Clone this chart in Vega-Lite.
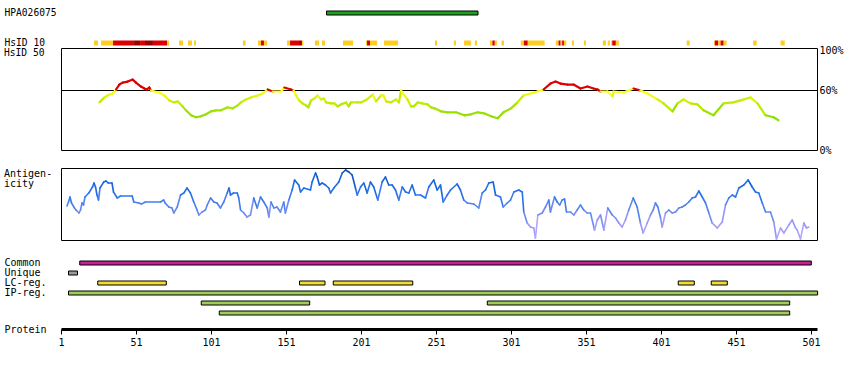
{
  "$schema": "https://vega.github.io/schema/vega-lite/v6.json",
  "background": "white",
  "padding": {"left": 3, "top": 7, "right": 3, "bottom": 5},
  "spacing": 0,
  "bounds": "flush",
  "config": {
    "view": {"stroke": null},
    "font": "DejaVu Sans Mono",
    "text": {"font": "DejaVu Sans Mono", "fontSize": 10, "fill": "black"},
    "axis": {"labelFont": "DejaVu Sans Mono", "titleFont": "DejaVu Sans Mono", "labelFontSize": 10, "labelColor": "black", "grid": false}
  },
  "datasets": {
    "p1": [
      {"r":26.6,"v":48},{"r":29.9,"v":53},{"r":33.2,"v":56},{"r":35.4,"v":57},{"r":37.7,"v":61},{"r":39.9,"v":66},{"r":42.1,"v":68},{"r":45.5,"v":69},{"r":48.8,"v":71},{"r":51,"v":68},{"r":54.3,"v":64},{"r":56.6,"v":62},{"r":58.1,"v":61},{"r":59.9,"v":63},{"r":61,"v":60},{"r":63.2,"v":59},{"r":66.5,"v":58},{"r":69.9,"v":55},{"r":73.2,"v":50},{"r":76.5,"v":48},{"r":78.8,"v":49},{"r":82.1,"v":44},{"r":84.3,"v":40},{"r":87.7,"v":35},{"r":91,"v":33},{"r":94.3,"v":34},{"r":97.7,"v":36},{"r":101,"v":39},{"r":104.3,"v":40},{"r":107.7,"v":40},{"r":112.1,"v":43},{"r":115.5,"v":42},{"r":118.8,"v":45},{"r":121,"v":48},{"r":124.3,"v":51},{"r":127.7,"v":53},{"r":132.1,"v":55},{"r":135.5,"v":57},{"r":138.8,"v":61},{"r":142.1,"v":59},{"r":147.7,"v":59},{"r":149.9,"v":63},{"r":154.3,"v":61},{"r":156.1,"v":60},{"r":157.7,"v":55},{"r":159.7,"v":50},{"r":162,"v":47},{"r":164.3,"v":45},{"r":165.9,"v":43},{"r":167.7,"v":50},{"r":169.9,"v":52},{"r":172,"v":55},{"r":174.3,"v":51},{"r":176.1,"v":52},{"r":177.7,"v":48},{"r":181,"v":47},{"r":183.2,"v":47},{"r":185.5,"v":44},{"r":187.7,"v":46},{"r":191,"v":48},{"r":192.8,"v":44},{"r":194.3,"v":48},{"r":198.8,"v":48},{"r":201,"v":48},{"r":205,"v":51},{"r":208.8,"v":56},{"r":211,"v":49},{"r":214.3,"v":55},{"r":216,"v":55},{"r":217.7,"v":49},{"r":221,"v":48},{"r":224.3,"v":51},{"r":226.3,"v":48},{"r":227.7,"v":60},{"r":229.5,"v":56},{"r":232,"v":51},{"r":234.3,"v":44},{"r":236.3,"v":44},{"r":238.8,"v":48},{"r":241.7,"v":47},{"r":245.4,"v":46},{"r":247.7,"v":43},{"r":249.9,"v":42},{"r":254.3,"v":39},{"r":258.8,"v":38},{"r":264.3,"v":38},{"r":269.9,"v":35},{"r":274.3,"v":36},{"r":278.8,"v":38},{"r":283,"v":37},{"r":287.7,"v":34},{"r":292.1,"v":32},{"r":296,"v":38},{"r":301,"v":42},{"r":305.3,"v":48},{"r":309.3,"v":55},{"r":314,"v":57},{"r":318.7,"v":59},{"r":322.7,"v":61},{"r":327.3,"v":67},{"r":330.7,"v":69},{"r":334,"v":67},{"r":338.7,"v":66},{"r":342.7,"v":66},{"r":347.3,"v":62},{"r":352,"v":64},{"r":356,"v":62},{"r":358.7,"v":61},{"r":360.7,"v":59},{"r":365.3,"v":59},{"r":368.7,"v":54},{"r":369.3,"v":59},{"r":376,"v":58},{"r":382.7,"v":62},{"r":387.3,"v":60},{"r":392,"v":57},{"r":398.7,"v":51},{"r":402.7,"v":47},{"r":408.7,"v":39},{"r":412,"v":47},{"r":416,"v":51},{"r":420.7,"v":47},{"r":425.3,"v":46},{"r":429.3,"v":40},{"r":436,"v":35},{"r":442.7,"v":47},{"r":449.3,"v":48},{"r":454,"v":50},{"r":460.7,"v":53},{"r":465.3,"v":47},{"r":470.7,"v":35},{"r":476,"v":33},{"r":479.3,"v":30}
    ],
    "ag": [
      {"r":5,"a":34},{"r":6,"a":38},{"r":7,"a":43},{"r":8,"a":37},{"r":10,"a":32},{"r":11,"a":30},{"r":13,"a":27},{"r":14,"a":30},{"r":15,"a":37},{"r":16,"a":35},{"r":17,"a":43},{"r":19.5,"a":47},{"r":22,"a":53},{"r":23,"a":57},{"r":24,"a":53},{"r":25,"a":45},{"r":26,"a":40},{"r":27,"a":52},{"r":29.5,"a":58},{"r":31,"a":59},{"r":32.5,"a":57},{"r":35,"a":57},{"r":36,"a":48},{"r":38.5,"a":42},{"r":40.7,"a":44},{"r":48.5,"a":44},{"r":49.5,"a":38},{"r":52.9,"a":37},{"r":54.6,"a":36},{"r":57.3,"a":38},{"r":67.3,"a":38},{"r":69.5,"a":40},{"r":70.4,"a":37},{"r":72.9,"a":33},{"r":75,"a":32},{"r":76.2,"a":27},{"r":78.5,"a":33},{"r":80.7,"a":45},{"r":82.9,"a":47},{"r":85,"a":52},{"r":87.3,"a":47},{"r":89.5,"a":38},{"r":91.7,"a":30},{"r":92.9,"a":25},{"r":95,"a":28},{"r":97.3,"a":30},{"r":98.5,"a":35},{"r":100.7,"a":42},{"r":102.9,"a":38},{"r":105,"a":37},{"r":107.3,"a":32},{"r":109.5,"a":38},{"r":111.8,"a":47},{"r":113,"a":52},{"r":114,"a":45},{"r":116,"a":47},{"r":118.5,"a":47},{"r":119.5,"a":42},{"r":120.7,"a":30},{"r":122.9,"a":27},{"r":125,"a":23},{"r":127.3,"a":25},{"r":129.5,"a":42},{"r":131.8,"a":32},{"r":134,"a":43},{"r":136.2,"a":38},{"r":138.5,"a":32},{"r":139.6,"a":23},{"r":141,"a":38},{"r":142.9,"a":32},{"r":145,"a":33},{"r":147.3,"a":28},{"r":149.5,"a":38},{"r":150.6,"a":27},{"r":152.9,"a":40},{"r":155.1,"a":50},{"r":156.7,"a":60},{"r":159.5,"a":55},{"r":160.7,"a":48},{"r":162.9,"a":52},{"r":167.3,"a":50},{"r":168.4,"a":58},{"r":170.7,"a":67},{"r":171.8,"a":63},{"r":173.3,"a":55},{"r":175.1,"a":57},{"r":177.3,"a":55},{"r":179.5,"a":52},{"r":180.7,"a":47},{"r":182.9,"a":52},{"r":186.2,"a":58},{"r":188.5,"a":67},{"r":190.7,"a":70},{"r":192.9,"a":68},{"r":195.1,"a":65},{"r":197.3,"a":52},{"r":198.5,"a":45},{"r":200.7,"a":53},{"r":202.9,"a":57},{"r":205.1,"a":47},{"r":207.3,"a":58},{"r":209.5,"a":53},{"r":212.2,"a":40},{"r":215.1,"a":58},{"r":217.3,"a":63},{"r":219.5,"a":55},{"r":221.8,"a":55},{"r":224,"a":50},{"r":226.2,"a":40},{"r":228.5,"a":53},{"r":230.7,"a":48},{"r":232.9,"a":47},{"r":235.1,"a":55},{"r":237.3,"a":45},{"r":240.7,"a":45},{"r":244,"a":42},{"r":246.2,"a":53},{"r":249.5,"a":60},{"r":251.8,"a":50},{"r":254,"a":55},{"r":255.8,"a":38},{"r":258.5,"a":45},{"r":260.7,"a":50},{"r":265.1,"a":56},{"r":267.3,"a":50},{"r":269.5,"a":40},{"r":271.8,"a":37},{"r":276.2,"a":36},{"r":279.5,"a":32},{"r":281.8,"a":47},{"r":284,"a":50},{"r":286.2,"a":57},{"r":289.1,"a":58},{"r":290.7,"a":45},{"r":294,"a":43},{"r":295.8,"a":33},{"r":298.5,"a":37},{"r":300.7,"a":40},{"r":302.9,"a":48},{"r":306.2,"a":50},{"r":308.5,"a":48},{"r":309.5,"a":28},{"r":311.8,"a":17},{"r":314,"a":13},{"r":316.2,"a":12},{"r":317.3,"a":2},{"r":318.9,"a":25},{"r":321.8,"a":27},{"r":324,"a":33},{"r":326.2,"a":40},{"r":327.3,"a":28},{"r":330,"a":43},{"r":331.8,"a":38},{"r":333.5,"a":35},{"r":335.1,"a":40},{"r":336.7,"a":41},{"r":338,"a":28},{"r":340.7,"a":28},{"r":342.9,"a":25},{"r":345.1,"a":30},{"r":347.3,"a":35},{"r":349.5,"a":30},{"r":351.8,"a":27},{"r":354,"a":27},{"r":356.7,"a":10},{"r":358.5,"a":20},{"r":360.7,"a":25},{"r":362.9,"a":10},{"r":365.5,"a":32},{"r":368.5,"a":25},{"r":370.7,"a":22},{"r":372.9,"a":17},{"r":375.1,"a":13},{"r":377.3,"a":20},{"r":379.5,"a":30},{"r":382.5,"a":42},{"r":385.1,"a":33},{"r":387.3,"a":17},{"r":389.1,"a":7},{"r":391.8,"a":17},{"r":394,"a":25},{"r":395.8,"a":30},{"r":397.3,"a":37},{"r":398.9,"a":33},{"r":400.7,"a":22},{"r":401.8,"a":13},{"r":404,"a":27},{"r":406.2,"a":30},{"r":408.5,"a":27},{"r":410.7,"a":28},{"r":412.9,"a":32},{"r":415.1,"a":33},{"r":417.3,"a":35},{"r":419.5,"a":38},{"r":421.8,"a":42},{"r":424,"a":43},{"r":426.2,"a":49},{"r":428.5,"a":43},{"r":430.7,"a":37},{"r":432.9,"a":27},{"r":435.1,"a":17},{"r":438.5,"a":12},{"r":441.8,"a":18},{"r":444,"a":35},{"r":446.2,"a":42},{"r":448.5,"a":45},{"r":450.7,"a":43},{"r":452.9,"a":52},{"r":456.2,"a":55},{"r":459.1,"a":60},{"r":461.8,"a":53},{"r":464,"a":48},{"r":466.2,"a":47},{"r":468.5,"a":37},{"r":470.7,"a":28},{"r":474,"a":28},{"r":476.2,"a":18},{"r":478,"a":1},{"r":480.7,"a":12},{"r":482.9,"a":7},{"r":486.2,"a":15},{"r":488.5,"a":20},{"r":490.7,"a":12},{"r":491.8,"a":10},{"r":494,"a":1},{"r":496.2,"a":17},{"r":498,"a":12},{"r":499.5,"a":13}
    ],
    "hs": [
      {"s":23,"e":25.7,"c":"y"},{"s":27.7,"e":35.7,"c":"y"},{"s":35.7,"e":49.7,"c":"r"},{"s":49.7,"e":53.7,"c":"d"},{"s":53.7,"e":57,"c":"r"},{"s":57,"e":62.3,"c":"d"},{"s":62.3,"e":71.7,"c":"r"},{"s":71.7,"e":73,"c":"y"},{"s":79.7,"e":82.3,"c":"y"},{"s":85.7,"e":88.3,"c":"y"},{"s":89.7,"e":91,"c":"y"},{"s":122.3,"e":124.1,"c":"y"},{"s":132.3,"e":134.3,"c":"y"},{"s":134.3,"e":136.3,"c":"r"},{"s":136.3,"e":138.3,"c":"y"},{"s":151.7,"e":153.7,"c":"y"},{"s":153.7,"e":159.7,"c":"r"},{"s":159.7,"e":161,"c":"d"},{"s":161,"e":161.7,"c":"r"},{"s":161.7,"e":162.6,"c":"y"},{"s":170.3,"e":173,"c":"y"},{"s":175,"e":177,"c":"y"},{"s":189,"e":195.7,"c":"y"},{"s":204.3,"e":205,"c":"y"},{"s":205,"e":207,"c":"r"},{"s":207,"e":211.7,"c":"y"},{"s":216.3,"e":225.7,"c":"y"},{"s":250.3,"e":251.7,"c":"y"},{"s":262.9,"e":264.3,"c":"y"},{"s":269.7,"e":274.3,"c":"y"},{"s":276.9,"e":278.3,"c":"y"},{"s":286.9,"e":288.6,"c":"y"},{"s":288.6,"e":290.2,"c":"r"},{"s":290.2,"e":291.6,"c":"y"},{"s":294.7,"e":296.3,"c":"y"},{"s":307.5,"e":309.6,"c":"y"},{"s":309.6,"e":312.2,"c":"r"},{"s":312.2,"e":323.4,"c":"y"},{"s":330.9,"e":332.7,"c":"y"},{"s":332.7,"e":334.1,"c":"r"},{"s":334.1,"e":335.1,"c":"y"},{"s":335.1,"e":336.3,"c":"r"},{"s":336.3,"e":337.9,"c":"y"},{"s":341.6,"e":343,"c":"y"},{"s":349.6,"e":351,"c":"y"},{"s":362.2,"e":364.3,"c":"y"},{"s":365.5,"e":366.9,"c":"y"},{"s":367.8,"e":368.5,"c":"y"},{"s":368.5,"e":370.9,"c":"r"},{"s":370.9,"e":372.9,"c":"y"},{"s":418.1,"e":420.1,"c":"y"},{"s":436.3,"e":436.9,"c":"y"},{"s":436.9,"e":439.1,"c":"r"},{"s":439.1,"e":440.7,"c":"y"},{"s":440.7,"e":442.8,"c":"r"},{"s":442.8,"e":444.7,"c":"y"},{"s":462.4,"e":464.8,"c":"y"},{"s":480.7,"e":483.5,"c":"y"}
    ],
    "bars": [
      {"track":"Common","s":13.5,"e":501.2},
      {"track":"Unique","s":6,"e":12},
      {"track":"LC-reg.","s":25.5,"e":71.2},
      {"track":"LC-reg.","s":160,"e":177},
      {"track":"LC-reg.","s":182.5,"e":235.5},
      {"track":"LC-reg.","s":412.5,"e":423.2},
      {"track":"LC-reg.","s":434.5,"e":445.2},
      {"track":"IP-reg.","s":6,"e":505.4},
      {"track":"IP#2","s":94.5,"e":166.8},
      {"track":"IP#2","s":285.2,"e":486.8},
      {"track":"IP#3","s":106.5,"e":486.8}
    ]
  },
  "vconcat": [
    {
      "width": 756,
      "height": 40,
      "layer": [
        {
          "data": {"values": [{"track": "HPA026075", "s": 178, "e": 279}]},
          "mark": {"type": "bar", "fill": "#20a020", "stroke": "black", "strokeWidth": 1, "height": 4},
          "encoding": {
            "x": {"field": "s", "type": "quantitative", "scale": {"domain": [1, 505], "nice": false, "zero": false}, "axis": null},
            "x2": {"field": "e"},
            "y": {
              "field": "track", "type": "nominal",
              "scale": {"type": "band", "domain": ["HPA026075", "#1", "#2", "HsID 10"], "paddingInner": 0.5, "paddingOuter": 0.25},
              "axis": {"title": null, "orient": "left", "domain": false, "ticks": false, "tickSize": 0, "labelAlign": "left", "labelPadding": 57, "labelBaseline": "middle", "labelFontSize": 9.6, "labelExpr": "indexof(datum.value, '#') >= 0 ? '' : datum.value"}
            }
          }
        },
        {
          "data": {"name": "hs"},
          "mark": {"type": "bar"},
          "encoding": {
            "x": {"field": "s", "type": "quantitative", "scale": {"domain": [1, 505], "nice": false, "zero": false}, "axis": null},
            "x2": {"field": "e"},
            "y": {"datum": "HsID 10", "type": "nominal"},
            "color": {"field": "c", "type": "nominal", "scale": {"domain": ["y", "r", "d"], "range": ["#ffcc22", "#dd0000", "#990000"]}, "legend": null}
          }
        }
      ]
    },
    {
      "width": 756,
      "height": 102,
      "view": {"stroke": "black", "strokeWidth": 1},
      "layer": [
        {
          "data": {"values": [{}]},
          "mark": {"type": "rule", "color": "black", "strokeWidth": 1},
          "encoding": {
            "y": {
              "datum": 60, "type": "quantitative",
              "scale": {"domain": [0, 102.86], "nice": false, "zero": true},
              "axis": {"orient": "right", "values": [0, 60, 100], "labelExpr": "datum.value + '%'", "title": null, "ticks": false, "tickSize": 0, "domain": false, "labelPadding": 2, "labelBaseline": "middle"}
            }
          }
        },
        {
          "data": {"name": "p1"},
          "transform": [
            {"window": [{"op": "lead", "field": "r", "as": "r2"}, {"op": "lead", "field": "v", "as": "v2"}], "sort": [{"field": "r", "order": "ascending"}]},
            {"filter": "isValid(datum.r2)"}
          ],
          "mark": {"type": "rule", "strokeWidth": 2.2, "strokeCap": "round"},
          "encoding": {
            "x": {"field": "r", "type": "quantitative", "scale": {"domain": [1, 505], "nice": false, "zero": false}, "axis": null},
            "x2": {"field": "r2"},
            "y": {
              "field": "v", "type": "quantitative", "scale": {"domain": [0, 102.86], "nice": false, "zero": true},
              "axis": {"orient": "right", "values": [0, 60, 100], "labelExpr": "datum.value + '%'", "title": null, "ticks": false, "tickSize": 0, "domain": false, "labelPadding": 2, "labelBaseline": "middle"}
            },
            "y2": {"field": "v2"},
            "color": {
              "field": "v", "type": "quantitative",
              "scale": {"domain": [30, 40, 50, 59, 60.9, 61, 100], "range": ["#88dd00", "#a0e200", "#ccee00", "#ffff22", "#ffff22", "#dd0000", "#dd0000"]},
              "legend": null
            }
          }
        },
        {
          "data": {"values": [{}]},
          "mark": {"type": "text", "align": "left", "baseline": "middle", "fill": "black", "fontSize": 9.6},
          "encoding": {
            "x": {"datum": -37, "type": "quantitative", "scale": {"domain": [1, 505], "nice": false, "zero": false}, "axis": null},
            "y": {
              "datum": 97.5, "type": "quantitative", "scale": {"domain": [0, 102.86], "nice": false, "zero": true},
              "axis": {"orient": "right", "values": [0, 60, 100], "labelExpr": "datum.value + '%'", "title": null, "ticks": false, "tickSize": 0, "domain": false, "labelPadding": 2, "labelBaseline": "middle"}
            },
            "text": {"value": "HsID 50"}
          }
        }
      ]
    },
    {
      "width": 756,
      "height": 18,
      "data": {"values": [{}]},
      "mark": {"type": "text"},
      "encoding": {"text": {"value": ""}}
    },
    {
      "width": 756,
      "height": 72,
      "view": {"stroke": "black", "strokeWidth": 1},
      "layer": [
        {
          "data": {"name": "ag"},
          "transform": [
            {"window": [{"op": "lead", "field": "r", "as": "r2"}, {"op": "lead", "field": "a", "as": "a2"}], "sort": [{"field": "r", "order": "ascending"}]},
            {"filter": "isValid(datum.r2)"}
          ],
          "mark": {"type": "rule", "strokeWidth": 1.6, "strokeCap": "round"},
          "encoding": {
            "x": {"field": "r", "type": "quantitative", "scale": {"domain": [1, 505], "nice": false, "zero": false}, "axis": null},
            "x2": {"field": "r2"},
            "y": {"field": "a", "type": "quantitative", "scale": {"domain": [0, 72], "nice": false, "zero": true}, "axis": null},
            "y2": {"field": "a2"},
            "color": {
              "field": "a", "type": "quantitative",
              "scale": {"domain": [0, 15, 30, 45, 60, 72], "range": ["#b4a8ff", "#a09af8", "#5f88f0", "#2a74ee", "#1463dc", "#0a4ca8"]},
              "legend": null
            }
          }
        },
        {
          "data": {"values": [{}]},
          "mark": {"type": "text", "align": "left", "baseline": "top", "lineHeight": 10, "fill": "black"},
          "encoding": {
            "x": {"datum": -37, "type": "quantitative", "scale": {"domain": [1, 505], "nice": false, "zero": false}, "axis": null},
            "y": {"datum": 71, "type": "quantitative", "scale": {"domain": [0, 72], "nice": false, "zero": true}, "axis": null},
            "text": {"value": ["Antigen-", "icity"]}
          }
        }
      ]
    },
    {
      "width": 756,
      "height": 18,
      "data": {"values": [{}]},
      "mark": {"type": "text"},
      "encoding": {"text": {"value": ""}}
    },
    {
      "width": 756,
      "height": 60,
      "data": {"name": "bars"},
      "mark": {"type": "bar", "stroke": "black", "strokeWidth": 1},
      "encoding": {
        "x": {
          "field": "s", "type": "quantitative",
          "scale": {"domain": [1, 505], "nice": false, "zero": false},
          "axis": {"orient": "bottom", "offset": 11, "values": [1, 51, 101, 151, 201, 251, 301, 351, 401, 451, 501], "domain": true, "domainWidth": 3, "domainColor": "black", "ticks": true, "tickSize": 5, "tickWidth": 1, "tickColor": "black", "labelPadding": 3, "labelFlush": false, "labelOverlap": false, "title": "Protein", "titleX": -57, "titleY": 0, "titleAlign": "left", "titleBaseline": "middle", "titleAngle": 0, "titleFontWeight": "normal", "titleFontSize": 10, "titleColor": "black"}
        },
        "x2": {"field": "e"},
        "y": {
          "field": "track", "type": "nominal",
          "scale": {"type": "band", "domain": ["Common", "Unique", "LC-reg.", "IP-reg.", "IP#2", "IP#3"], "paddingInner": 0.6, "paddingOuter": 0.3},
          "axis": {"title": null, "orient": "left", "domain": false, "ticks": false, "tickSize": 0, "labelAlign": "left", "labelPadding": 57, "labelBaseline": "middle", "labelExpr": "indexof(datum.value, '#') >= 0 ? '' : datum.value"}
        },
        "color": {
          "field": "track", "type": "nominal",
          "scale": {"domain": ["Common", "Unique", "LC-reg.", "IP-reg.", "IP#2", "IP#3"], "range": ["#c81e96", "#999999", "#f0dc32", "#a0cd5a", "#a0cd5a", "#a0cd5a"]},
          "legend": null
        }
      }
    }
  ]
}
